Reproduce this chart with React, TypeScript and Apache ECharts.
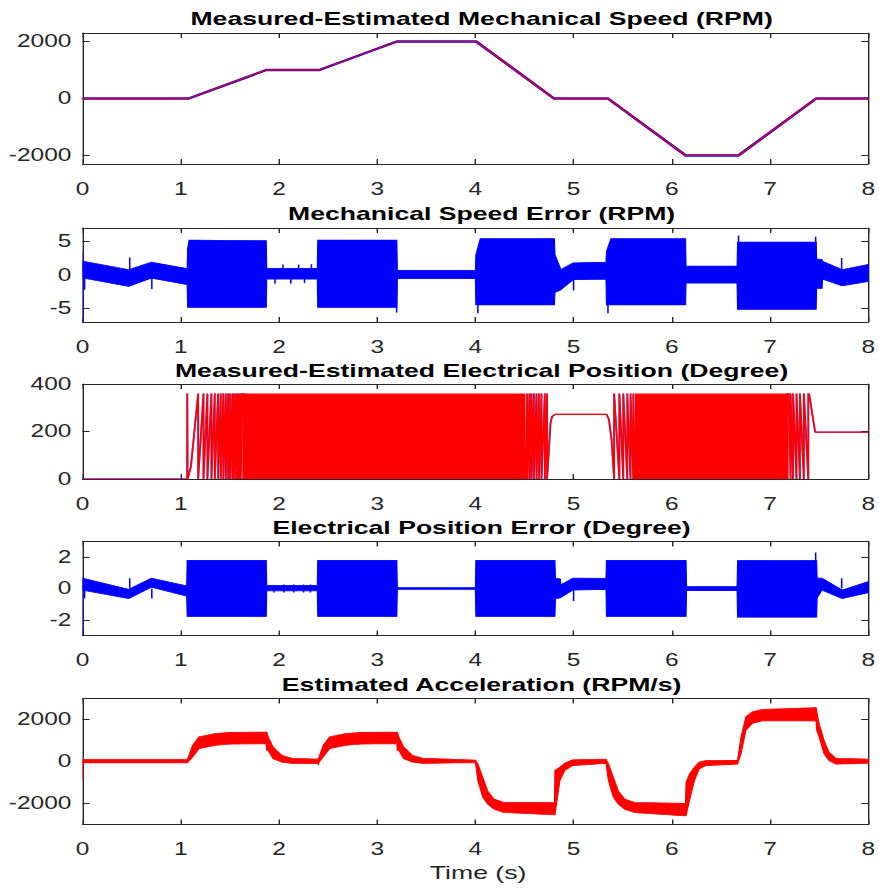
import React, { useEffect, useRef } from "react";
import * as echarts from "echarts";

// ---------- layout constants (figure is horizontally stretched, like the reference) ----------
const SX = 1.4;
const W = 628;
const H = 888;

// ---------- Panel 1: mechanical speed (RPM) ----------
const speedTime = [0, 1.08, 1.87, 2.41, 3.2, 4.01, 4.8, 5.35, 6.14, 6.68, 7.47, 8];
const measuredSpeed = [0, 0, 1000, 1000, 2000, 2000, 0, 0, -2000, -2000, 0, 0];
const estimatedSpeed = [0, 0, 1000, 1000, 2000, 2000, 0, 0, -2000, -2000, 0, 0];
const speedTicks = [-2000, 0, 2000];

// ---------- Panel 2: mechanical speed error envelope (RPM) ----------
const speedErrTime = [0, 0.47, 0.7, 1.065, 1.07, 1.085, 1.87, 1.875, 2.39, 2.395, 3.2, 3.205, 4.0, 4.005, 4.05, 4.805, 4.81, 4.86, 4.87, 4.995, 5.33, 5.335, 5.38, 6.14, 6.145, 6.665, 6.67, 7.47, 7.475, 7.53, 7.535, 7.735, 8.0];
const speedErrLow = [-0.45, -1.7, -0.45, -1.45, -4.8, -4.8, -4.8, -0.6, -0.6, -4.8, -4.8, -0.55, -0.55, -4.45, -4.45, -4.45, -2.6, -2.3, -2.2, -0.7, -0.6, -4.45, -4.45, -4.45, -1.2, -1.2, -5.1, -5.1, -2.0, -2.0, -0.6, -1.6, -0.95];
const speedErrHigh = [2.05, 0.8, 1.9, 0.95, 4.0, 5.2, 5.1, 1.0, 1.0, 5.2, 5.2, 0.7, 0.7, 3.0, 5.4, 5.4, 3.0, 1.2, 0.8, 1.8, 1.9, 3.5, 5.4, 5.4, 1.3, 1.3, 4.9, 4.9, 2.4, 2.3, 2.05, 0.8, 1.55];
const speedErrSpikeTime = [0, 0.02, 0.48, 0.705, 1.96, 2.04, 2.12, 2.2, 2.26, 2.33, 3.198, 4.025, 5.0, 5.35, 6.68, 7.465, 7.73];
const speedErrSpikeLow = [-7, -2.2, 0, -2.1, -1.3, 0, -1.3, 0, -1.2, 0, -5.6, -5.7, -2.3, -5.7, 0, 0, 0];
const speedErrSpikeHigh = [3.5, 0.5, 2.6, 0, 0.5, 1.55, 0.3, 1.55, 0.3, 1.6, 0, 0, 0, 0, 5.9, 5.7, 2.55];
const speedErrTicks = [-5, 0, 5];

// ---------- Panel 3: electrical position (degree) ----------
const posStartTime = [0, 1.065, 1.066, 1.069, 1.103, 1.123, 1.15, 1.177];
const posStartValue = [0, 0, 360, 0, 52, 136, 249, 360];
const posRiseWraps1 = [1.177, 1.231, 1.271, 1.312, 1.346, 1.38, 1.407, 1.433, 1.458, 1.481, 1.501, 1.525, 1.542, 1.563, 1.58, 1.596, 1.61, 1.626];
const posRiseWraps2 = [4.51, 4.528, 4.551, 4.572, 4.596, 4.622, 4.647, 4.673, 4.707, 4.73];
const posHoldTime = [4.73, 4.765, 4.78, 4.81, 5.337, 5.36, 5.387, 5.413];
const posHoldValue = [0, 235, 262, 272, 272, 250, 165, 0];
const posFallWraps1 = [5.413, 5.466, 5.506, 5.547, 5.58, 5.608, 5.625];
const posFallWraps2 = [7.19, 7.21, 7.235, 7.27, 7.305, 7.345, 7.39];
const posEndTime = [7.39, 7.4, 7.46, 8.0];
const posEndValue = [360, 355, 197, 197];
const posDenseStart = [1.626, 5.625];
const posDenseEnd = [4.51, 7.19];
const posDenseLow = [0, 0];
const posDenseHigh = [360, 360];
const posTicks = [0, 200, 400];

// ---------- Panel 4: electrical position error envelope (degree) ----------
const posErrTime = [0, 0.47, 0.7, 1.06, 1.065, 1.87, 1.875, 2.39, 2.395, 3.2, 3.205, 4.0, 4.005, 4.81, 4.815, 4.865, 4.87, 4.995, 5.33, 5.335, 6.145, 6.15, 6.665, 6.67, 7.475, 7.48, 7.53, 7.735, 8.0];
const posErrLow = [-0.1, -0.64, 0.08, -0.49, -1.78, -1.78, -0.15, -0.15, -1.78, -1.78, -0.05, -0.05, -1.78, -1.78, -0.64, -0.6, -0.57, -0.1, -0.05, -1.78, -1.78, -0.14, -0.14, -1.83, -1.83, -0.6, -0.1, -0.64, -0.27];
const posErrHigh = [0.66, -0.05, 0.66, 0.16, 1.8, 1.8, 0.2, 0.2, 1.8, 1.8, 0.05, 0.05, 1.8, 1.8, 0.66, 0.6, 0.23, 0.66, 0.64, 1.8, 1.8, 0.12, 0.12, 1.78, 1.78, 0.66, 0.66, -0.1, 0.44];
const posErrSpikeTime = [0, 0.02, 0.48, 0.705, 1.95, 2.05, 2.15, 2.25, 2.32, 5.0, 7.465, 7.73];
const posErrSpikeLow = [-3, -0.64, 0, -0.64, -0.25, -0.25, -0.25, -0.25, -0.25, -0.8, 0, 0];
const posErrSpikeHigh = [0.7, 0, 0.66, 0, 0.2, 0.25, 0.25, 0.25, 0.25, 0, 2.3, 0.66];
const posErrTicks = [-2, 0, 2];

// ---------- Panel 5: estimated acceleration envelope (RPM/s) ----------
const accTime = [0, 1.067, 1.12, 1.185, 1.35, 1.5, 1.87, 1.875, 1.89, 1.94, 2.03, 2.13, 2.4, 2.45, 2.515, 2.68, 2.83, 3.2, 3.205, 3.22, 3.27, 3.36, 3.46, 4.0, 4.025, 4.075, 4.125, 4.19, 4.29, 4.805, 4.81, 4.86, 4.91, 4.99, 5.33, 5.355, 5.405, 5.455, 5.52, 5.62, 6.14, 6.145, 6.18, 6.23, 6.28, 6.35, 6.67, 6.705, 6.755, 6.82, 6.92, 7.47, 7.475, 7.5, 7.55, 7.6, 7.67, 8.0];
const accLow = [-60, -60, 210, 610, 770, 830, 850, 530, 530, 130, -30, -90, -90, 210, 610, 770, 830, 850, 530, 530, 130, -30, -90, -50, -910, -1700, -2030, -2270, -2430, -2540, -2540, -910, -430, -190, -90, -910, -1700, -2030, -2270, -2430, -2590, -2590, -1870, -910, -350, -190, -120, 370, 1490, 1810, 1940, 1940, 1500, 1170, 370, 50, -120, -90];
const accHigh = [90, 90, 770, 1170, 1330, 1380, 1400, 1400, 1170, 690, 290, 160, 110, 770, 1170, 1330, 1380, 1400, 1400, 1170, 690, 290, 160, 70, -110, -750, -1400, -1790, -1950, -1950, -430, -270, -80, 80, 110, -110, -750, -1400, -1790, -1950, -2000, -1000, -600, -270, -30, 50, 70, 1170, 2130, 2370, 2480, 2560, 2400, 1810, 1010, 450, 160, 110];
const accSpikeTime = [0, 2.4, 7.46];
const accSpikeLow = [-880, -180, 1900];
const accSpikeHigh = [100, 0, 2600];
const accTicks = [-2000, 0, 2000];

const titles = [
  "Measured-Estimated Mechanical Speed (RPM)",
  "Mechanical Speed Error (RPM)",
  "Measured-Estimated Electrical Position (Degree)",
  "Electrical Position Error (Degree)",
  "Estimated Acceleration (RPM/s)",
];
const xLabel = "Time (s)";

// ---------- styling / geometry (pre-stretch pixels) ----------
const FONT = '"Liberation Sans", Arial, Helvetica, sans-serif';
const AX = "#262626";
const BLUE = "#0000FF";
const RED = "#FF0000";
const gridBoxes = [
  { top: 33, height: 131 },
  { top: 228, height: 94 },
  { top: 384, height: 95 },
  { top: 541.5, height: 94 },
  { top: 698.5, height: 126 },
];
const yRanges = [
  [-2300, 2300],
  [-7, 7],
  [0, 400],
  [-3, 3],
  [-3000, 3000],
];
const yTickSets = [speedTicks, speedErrTicks, posTicks, posErrTicks, accTicks];
const titleY = [18, 213, 370, 527, 684];

function pairs(t: number[], v: number[]) {
  return t.map((x, i) => [x, v[i]]);
}

function buildPosition() {
  const pts: number[][] = pairs(posStartTime, posStartValue);
  for (let i = 0; i < posRiseWraps1.length - 1; i++) {
    pts.push([posRiseWraps1[i], 0], [posRiseWraps1[i + 1], 360]);
  }
  for (let i = 0; i < posRiseWraps2.length - 1; i++) {
    pts.push([posRiseWraps2[i], 0], [posRiseWraps2[i + 1], 360]);
  }
  pts.push(...pairs(posHoldTime, posHoldValue));
  for (let i = 0; i < posFallWraps1.length - 1; i++) {
    pts.push([posFallWraps1[i], 360], [posFallWraps1[i + 1], 0]);
  }
  for (let i = 0; i < posFallWraps2.length - 1; i++) {
    pts.push([posFallWraps2[i], 360], [posFallWraps2[i + 1], 0]);
  }
  pts.push(...pairs(posEndTime, posEndValue));
  return pts;
}

function bandSeries(gi: number, T: number[], LO: number[], HI: number[], color: string) {
  return {
    type: "custom",
    xAxisIndex: gi,
    yAxisIndex: gi,
    clip: true,
    silent: true,
    z: 3,
    data: T.map((t, i) => [t, LO[i], HI[i]]),
    encode: { x: 0, y: [1, 2] },
    renderItem: (params: any, api: any) => {
      if (params.dataIndex !== 0) return null;
      const pts: number[][] = [];
      for (let i = 0; i < T.length; i++) pts.push(api.coord([T[i], HI[i]]));
      for (let i = T.length - 1; i >= 0; i--) pts.push(api.coord([T[i], LO[i]]));
      return {
        type: "polygon",
        shape: { points: pts },
        style: { fill: color, stroke: color, lineWidth: 0.8 },
      };
    },
  };
}

function spikeSeries(gi: number, T: number[], LO: number[], HI: number[], color: string) {
  return {
    type: "custom",
    xAxisIndex: gi,
    yAxisIndex: gi,
    clip: true,
    silent: true,
    z: 4,
    data: T.map((t, i) => [t, LO[i], HI[i]]),
    encode: { x: 0, y: [1, 2] },
    renderItem: (params: any, api: any) => {
      const a = api.coord([api.value(0), api.value(1)]);
      const b = api.coord([api.value(0), api.value(2)]);
      return {
        type: "line",
        shape: { x1: a[0], y1: a[1], x2: b[0], y2: b[1] },
        style: { stroke: color, lineWidth: 1.1 },
      };
    },
  };
}

function rectSeries(gi: number, S: number[], E: number[], LO: number[], HI: number[], color: string) {
  return {
    type: "custom",
    xAxisIndex: gi,
    yAxisIndex: gi,
    clip: true,
    silent: true,
    z: 5,
    data: S.map((s, i) => [s, E[i], LO[i], HI[i]]),
    encode: { x: [0, 1], y: [2, 3] },
    renderItem: (params: any, api: any) => {
      const a = api.coord([api.value(0), api.value(3)]);
      const b = api.coord([api.value(1), api.value(2)]);
      return {
        type: "rect",
        shape: { x: a[0], y: a[1], width: b[0] - a[0], height: b[1] - a[1] },
        style: { fill: color },
      };
    },
  };
}

function buildOption() {
  const grid = gridBoxes.map((g) => ({ left: 59, right: 4, top: g.top, height: g.height }));
  const axisLine = { show: true, onZero: false, lineStyle: { color: AX, width: 1 } };
  const tick = { show: true, inside: true, length: 5, lineStyle: { color: AX, width: 1 } };
  const labelBase = { color: AX, fontSize: 17.5, fontFamily: FONT, formatter: (v: number) => String(v) };

  const xAxis: any[] = [];
  const yAxis: any[] = [];
  for (let i = 0; i < 5; i++) {
    xAxis.push({
      type: "value", gridIndex: i, min: 0, max: 8, interval: 1, position: "bottom",
      axisLine, axisTick: tick, splitLine: { show: false },
      axisLabel: { ...labelBase, margin: 16, showMinLabel: true, showMaxLabel: true },
    });
  }
  for (let i = 0; i < 5; i++) {
    xAxis.push({
      type: "value", gridIndex: i, min: 0, max: 8, interval: 1, position: "top",
      axisLine, axisTick: tick, splitLine: { show: false }, axisLabel: { show: false },
    });
  }
  for (let i = 0; i < 5; i++) {
    yAxis.push({
      type: "value", gridIndex: i, min: yRanges[i][0], max: yRanges[i][1], position: "left",
      axisLine, axisTick: { ...tick, customValues: yTickSets[i] }, splitLine: { show: false },
      axisLabel: { ...labelBase, margin: 8, customValues: yTickSets[i] },
    });
  }
  for (let i = 0; i < 5; i++) {
    yAxis.push({
      type: "value", gridIndex: i, min: yRanges[i][0], max: yRanges[i][1], position: "right",
      axisLine, axisTick: { ...tick, customValues: yTickSets[i] }, splitLine: { show: false },
      axisLabel: { show: false },
    });
  }

  const posData = buildPosition();
  const series: any[] = [
    {
      type: "line", xAxisIndex: 0, yAxisIndex: 0, data: pairs(speedTime, measuredSpeed),
      showSymbol: false, lineStyle: { color: BLUE, width: 2.4 }, z: 3, silent: true,
    },
    {
      type: "line", xAxisIndex: 0, yAxisIndex: 0, data: pairs(speedTime, estimatedSpeed),
      showSymbol: false, lineStyle: { color: RED, width: 1.3, opacity: 0.85 }, z: 4, silent: true,
    },
    bandSeries(1, speedErrTime, speedErrLow, speedErrHigh, BLUE),
    spikeSeries(1, speedErrSpikeTime, speedErrSpikeLow, speedErrSpikeHigh, BLUE),
    {
      type: "line", xAxisIndex: 2, yAxisIndex: 2, data: posData,
      showSymbol: false, lineStyle: { color: BLUE, width: 1.4, opacity: 0.6 }, z: 3, silent: true,
    },
    {
      type: "line", xAxisIndex: 2, yAxisIndex: 2, data: posData,
      showSymbol: false, lineStyle: { color: RED, width: 1.2 }, z: 4, silent: true,
    },
    rectSeries(2, posDenseStart, posDenseEnd, posDenseLow, posDenseHigh, RED),
    bandSeries(3, posErrTime, posErrLow, posErrHigh, BLUE),
    spikeSeries(3, posErrSpikeTime, posErrSpikeLow, posErrSpikeHigh, BLUE),
    bandSeries(4, accTime, accLow, accHigh, RED),
    spikeSeries(4, accSpikeTime, accSpikeLow, accSpikeHigh, RED),
  ];

  const graphic: any[] = titles.map((t, i) => ({
    type: "text",
    x: 344,
    y: titleY[i],
    silent: true,
    style: {
      text: t, fill: "#000", fontSize: 19, fontWeight: "bold", fontFamily: FONT,
      align: "center", verticalAlign: "middle",
    },
  }));
  graphic.push({
    type: "text",
    x: 341.5,
    y: 872,
    silent: true,
    style: {
      text: xLabel, fill: AX, fontSize: 19, fontFamily: FONT,
      align: "center", verticalAlign: "middle",
    },
  });

  return {
    animation: false,
    backgroundColor: "#fff",
    grid,
    xAxis,
    yAxis,
    series,
    graphic,
  };
}

export default function App() {
  const ref = useRef<HTMLDivElement>(null);
  useEffect(() => {
    if (!ref.current) return;
    const chart = echarts.init(ref.current, null, { renderer: "svg", width: W, height: H });
    chart.setOption(buildOption() as any);
    return () => chart.dispose();
  }, []);
  return (
    <div style={{ position: "absolute", left: 0, top: 0, width: 879, height: 888, overflow: "hidden", background: "#fff" }}>
      <div
        ref={ref}
        style={{ width: W, height: H, transform: `scaleX(${SX})`, transformOrigin: "0 0" }}
      />
    </div>
  );
}
